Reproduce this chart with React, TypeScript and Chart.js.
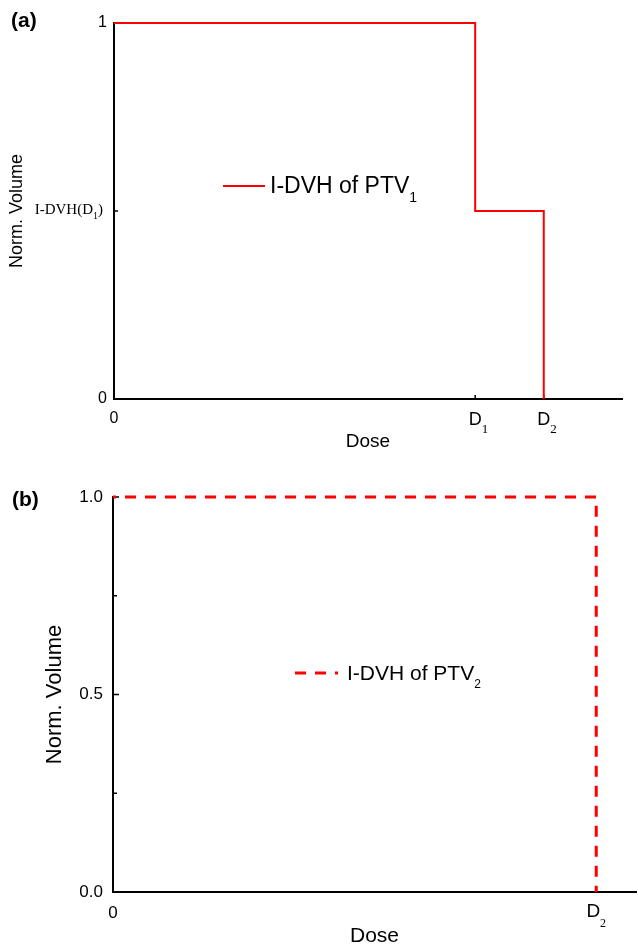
import React, { useEffect, useRef } from 'react';
import { Chart, registerables } from 'chart.js';

Chart.register(...registerables);

const SANS = '"Liberation Sans", Arial, Helvetica, sans-serif';
const SERIF = '"Liberation Serif", "Times New Roman", serif';

// ---------- Panel (a) data ----------
const doseA = [0, 71.1, 84.6];
const volumeA = [1, 0.5, 0];
const xTickValuesA = [0, 71.1, 84.6];
const xTickLabelsA = ['0', 'D_1', 'D_2'];
const yTickValuesA = [0, 0.5, 1];
const yTickLabelsA = ['0', 'I-DVH(D_1)', '1'];
const seriesLabelA = 'I-DVH of PTV_1';

// ---------- Panel (b) data ----------
const doseB = [0, 92.4];
const volumeB = [1, 0];
const xTickValuesB = [0, 92.4];
const xTickLabelsB = ['0', 'D_2'];
const yTickValuesB = [0, 0.25, 0.5, 0.75, 1];
const yTickLabelsB = ['0.0', '', '0.5', '', '1.0'];
const seriesLabelB = 'I-DVH of PTV_2';

const doseMax = 100;

function parseLabel(t: string) {
  const i = t.indexOf('_');
  if (i < 0) return { main: t, sub: '', tail: '' };
  return { main: t.slice(0, i), sub: t.slice(i + 1, i + 2), tail: t.slice(i + 2) };
}

function drawRich(
  ctx: CanvasRenderingContext2D,
  text: string,
  x: number,
  y: number,
  align: 'left' | 'center' | 'right' | 'main',
  mainFont: string,
  subFont: string,
  subDy: number
) {
  const p = parseLabel(text);
  ctx.font = mainFont;
  const w1 = ctx.measureText(p.main).width;
  const w3 = ctx.measureText(p.tail).width;
  ctx.font = subFont;
  const w2 = ctx.measureText(p.sub).width;
  const total = w1 + w2 + w3;
  const sx =
    align === 'right' ? x - total : align === 'center' ? x - total / 2 : align === 'main' ? x - w1 / 2 : x;
  ctx.textAlign = 'left';
  ctx.textBaseline = 'alphabetic';
  ctx.fillStyle = '#000';
  ctx.font = mainFont;
  ctx.fillText(p.main, sx, y);
  ctx.font = subFont;
  ctx.fillText(p.sub, sx + w1, y + subDy);
  ctx.font = mainFont;
  ctx.fillText(p.tail, sx + w1 + w2, y);
}

type DecorCfg = {
  panel: { text: string; x: number; y: number; font: string };
  xMarks: { value: number; len: number }[];
  yMarks: { value: number; len: number }[];
  richX: { values: number[]; labels: string[]; y: number; align: 'center' | 'main'; mainFont: string; subFont: string; subDy: number };
  richY: { values: number[]; labels: string[]; x: number; dy: number; mainFont: string; subFont: string; subDy: number };
  legend: { x: number; y: number; len: number; gap: number; textDy: number; font: string; subFont: string; subDy: number };
};

function makeDecor(cfg: DecorCfg) {
  return {
    id: 'decor' + cfg.panel.text,
    beforeDatasetsDraw(chart: any) {
      const ctx: CanvasRenderingContext2D = chart.ctx;
      const area = chart.chartArea;
      const xs = chart.scales.x;
      const ys = chart.scales.y;
      ctx.save();
      ctx.strokeStyle = '#000';
      ctx.lineWidth = 1.5;
      ctx.beginPath();
      cfg.yMarks.forEach((m) => {
        const py = ys.getPixelForValue(m.value);
        ctx.moveTo(area.left, py);
        ctx.lineTo(area.left + m.len, py);
      });
      cfg.xMarks.forEach((m) => {
        const px = xs.getPixelForValue(m.value);
        ctx.moveTo(px, area.bottom);
        ctx.lineTo(px, area.bottom - m.len);
      });
      ctx.stroke();
      ctx.restore();
    },
    afterDraw(chart: any) {
      const ctx: CanvasRenderingContext2D = chart.ctx;
      const xs = chart.scales.x;
      const ys = chart.scales.y;
      ctx.save();
      ctx.fillStyle = '#000';
      ctx.font = cfg.panel.font;
      ctx.textAlign = 'left';
      ctx.textBaseline = 'alphabetic';
      ctx.fillText(cfg.panel.text, cfg.panel.x, cfg.panel.y);
      cfg.richX.labels.forEach((lab, i) => {
        if (!lab.includes('_')) return;
        const px = xs.getPixelForValue(cfg.richX.values[i]);
        drawRich(ctx, lab, px, cfg.richX.y, cfg.richX.align, cfg.richX.mainFont, cfg.richX.subFont, cfg.richX.subDy);
      });
      cfg.richY.labels.forEach((lab, i) => {
        if (!lab.includes('_')) return;
        const py = ys.getPixelForValue(cfg.richY.values[i]);
        drawRich(ctx, lab, cfg.richY.x, py + cfg.richY.dy, 'right', cfg.richY.mainFont, cfg.richY.subFont, cfg.richY.subDy);
      });
      const ds = chart.data.datasets[0];
      const L = cfg.legend;
      ctx.strokeStyle = ds.borderColor;
      ctx.lineWidth = ds.borderWidth;
      ctx.setLineDash(ds.borderDash || []);
      ctx.lineCap = 'butt';
      ctx.beginPath();
      ctx.moveTo(L.x, L.y);
      ctx.lineTo(L.x + L.len, L.y);
      ctx.stroke();
      ctx.setLineDash([]);
      drawRich(ctx, ds.label, L.x + L.len + L.gap, L.y + L.textDy, 'left', L.font, L.subFont, L.subDy);
      ctx.restore();
    },
  };
}

function xScale(o: {
  values: number[];
  labels: string[];
  height: number;
  padding: number;
  fontSize: number;
  titleSize: number;
  titleLH: number;
  titlePad: number;
}) {
  return {
    type: 'linear',
    min: 0,
    max: doseMax,
    grid: { display: false, drawTicks: false },
    border: { display: true, color: '#000', width: 2 },
    afterBuildTicks: (s: any) => {
      s.ticks = o.values.map((v) => ({ value: v }));
    },
    afterFit: (s: any) => {
      s.height = o.height;
      s.paddingLeft = 0;
      s.paddingRight = 0;
    },
    ticks: {
      autoSkip: false,
      maxRotation: 0,
      minRotation: 0,
      padding: o.padding,
      color: '#000',
      font: { family: SANS, size: o.fontSize },
      callback: (_v: any, i: number) => (o.labels[i].includes('_') ? '' : o.labels[i]),
    },
    title: {
      display: true,
      text: 'Dose',
      color: '#000',
      font: { family: SANS, size: o.titleSize, lineHeight: o.titleLH },
      padding: { top: 0, bottom: o.titlePad },
    },
  };
}

function yScale(o: {
  values: number[];
  labels: string[];
  width: number;
  padding: number;
  fontSize: number;
  titleSize: number;
  titlePad: number;
}) {
  return {
    type: 'linear',
    min: 0,
    max: 1,
    grid: { display: false, drawTicks: false },
    border: { display: true, color: '#000', width: 2 },
    afterBuildTicks: (s: any) => {
      s.ticks = o.values.map((v) => ({ value: v }));
    },
    afterFit: (s: any) => {
      s.width = o.width;
      s.paddingTop = 0;
      s.paddingBottom = 0;
    },
    ticks: {
      autoSkip: false,
      padding: o.padding,
      color: '#000',
      font: { family: SANS, size: o.fontSize },
      callback: (_v: any, i: number) => (o.labels[i].includes('_') ? '' : o.labels[i]),
    },
    title: {
      display: true,
      text: 'Norm. Volume',
      color: '#000',
      font: { family: SANS, size: o.titleSize },
      padding: { top: o.titlePad, bottom: 0 },
    },
  };
}

function configA(): any {
  return {
    type: 'line',
    data: {
      datasets: [
        {
          label: seriesLabelA,
          data: doseA.map((x, i) => ({ x, y: volumeA[i] })),
          borderColor: '#ff0000',
          borderWidth: 2,
          stepped: true,
          pointRadius: 0,
          fill: false,
          clip: false,
        },
      ],
    },
    options: {
      responsive: false,
      animation: false,
      devicePixelRatio: 1,
      layout: { padding: { top: 23, right: 16, left: 0, bottom: 0 } },
      plugins: { legend: { display: false }, tooltip: { enabled: false } },
      scales: {
        x: xScale({ values: xTickValuesA, labels: xTickLabelsA, height: 71, padding: 10, fontSize: 16, titleSize: 19, titleLH: 1.2, titlePad: 16.6 }),
        y: yScale({ values: yTickValuesA, labels: yTickLabelsA, width: 114, padding: 7, fontSize: 16, titleSize: 18, titlePad: 6.2 }),
      },
    },
    plugins: [
      makeDecor({
        panel: { text: '(a)', x: 11, y: 27, font: `bold 21px ${SANS}` },
        xMarks: xTickValuesA.map((v) => ({ value: v, len: 4 })),
        yMarks: yTickValuesA.map((v) => ({ value: v, len: 4 })),
        richX: { values: xTickValuesA, labels: xTickLabelsA, y: 425, align: 'main', mainFont: `18px ${SANS}`, subFont: `13px ${SERIF}`, subDy: 8 },
        richY: { values: yTickValuesA, labels: yTickLabelsA, x: 103, dy: 2.5, mainFont: `15px ${SERIF}`, subFont: `10px ${SERIF}`, subDy: 5.5 },
        legend: { x: 223, y: 186, len: 42, gap: 5, textDy: 7, font: `23px ${SANS}`, subFont: `14px ${SANS}`, subDy: 9 },
      }),
    ],
  };
}

function configB(): any {
  return {
    type: 'line',
    data: {
      datasets: [
        {
          label: seriesLabelB,
          data: doseB.map((x, i) => ({ x, y: volumeB[i] })),
          borderColor: '#ff0000',
          borderWidth: 3,
          borderDash: [11, 9],
          borderDashOffset: 8,
          stepped: true,
          pointRadius: 0,
          fill: false,
          clip: false,
        },
      ],
    },
    options: {
      responsive: false,
      animation: false,
      devicePixelRatio: 1,
      layout: { padding: { top: 27, right: 2, left: 0, bottom: 0 } },
      plugins: { legend: { display: false }, tooltip: { enabled: false } },
      scales: {
        x: xScale({ values: xTickValuesB, labels: xTickLabelsB, height: 55, padding: 11, fontSize: 17, titleSize: 21, titleLH: 1, titlePad: 0 }),
        y: yScale({ values: yTickValuesB, labels: yTickLabelsB, width: 113, padding: 10, fontSize: 17, titleSize: 22, titlePad: 42 }),
      },
    },
    plugins: [
      makeDecor({
        panel: { text: '(b)', x: 12, y: 36, font: `bold 21px ${SANS}` },
        xMarks: [],
        yMarks: yTickValuesB.map((v, i) => ({ value: v, len: yTickLabelsB[i] === '' ? 4 : 6 })),
        richX: { values: xTickValuesB, labels: xTickLabelsB, y: 447, align: 'center', mainFont: `19px ${SANS}`, subFont: `12px ${SERIF}`, subDy: 10 },
        richY: { values: yTickValuesB, labels: yTickLabelsB, x: 103, dy: 0, mainFont: `14px ${SERIF}`, subFont: `9px ${SERIF}`, subDy: 5 },
        legend: { x: 295, y: 203, len: 43, gap: 9, textDy: 7, font: `21px ${SANS}`, subFont: `12px ${SANS}`, subDy: 8 },
      }),
    ],
  };
}

export default function App() {
  const refA = useRef<HTMLCanvasElement>(null);
  const refB = useRef<HTMLCanvasElement>(null);
  useEffect(() => {
    const a = new Chart(refA.current as HTMLCanvasElement, configA());
    const b = new Chart(refB.current as HTMLCanvasElement, configB());
    return () => {
      a.destroy();
      b.destroy();
    };
  }, []);
  return (
    <div style={{ position: 'absolute', left: 0, top: 0, width: 638, height: 947, background: '#fff', overflow: 'hidden' }}>
      <canvas ref={refA} width={638} height={470} style={{ position: 'absolute', left: 0, top: 0 }} />
      <canvas ref={refB} width={638} height={477} style={{ position: 'absolute', left: 0, top: 470 }} />
    </div>
  );
}
